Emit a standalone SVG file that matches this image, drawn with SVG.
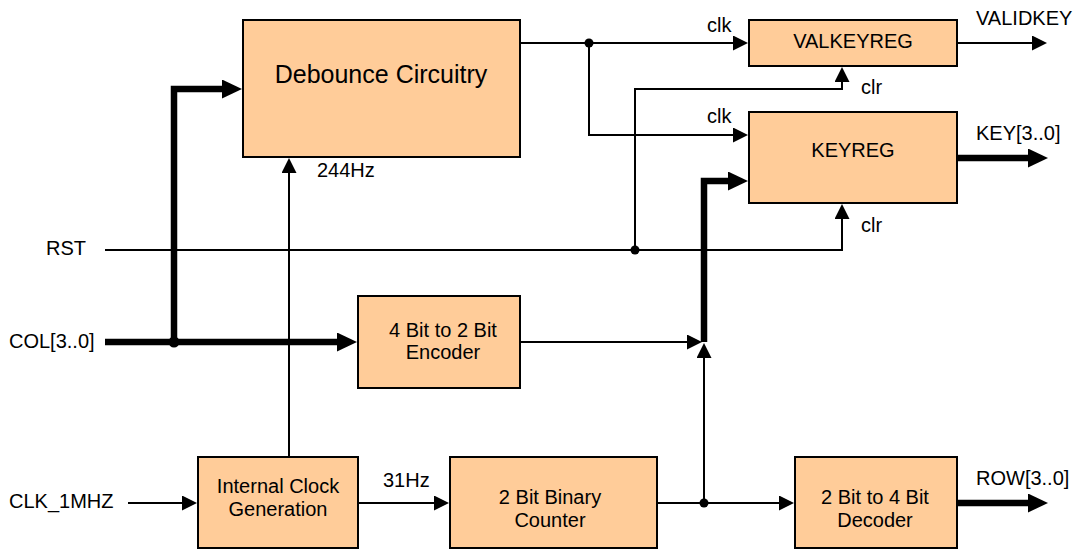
<svg xmlns="http://www.w3.org/2000/svg" width="1074" height="550" viewBox="0 0 1074 550">
<style>
.box{fill:#FFCC99;stroke:#000;stroke-width:2}
.t{font-family:"Liberation Sans",Arial,sans-serif;font-size:20px;fill:#000}
.m{text-anchor:middle}
.w{fill:none;stroke:#000;stroke-width:2}
.k{fill:none;stroke:#000;stroke-width:6.5;stroke-linejoin:miter}
</style>
<defs>
<marker id="a" markerUnits="userSpaceOnUse" markerWidth="16" markerHeight="15" refX="1" refY="7.5" orient="auto"><path d="M0,0 L15,7.5 L0,15 z" fill="#000"/></marker>
<marker id="b" markerUnits="userSpaceOnUse" markerWidth="21" markerHeight="19" refX="1" refY="9.5" orient="auto"><path d="M0,0 L20,9.5 L0,19 z" fill="#000"/></marker>
</defs>
<rect width="1074" height="550" fill="#fff"/>
<g id="connectors">
<path class="w" d="M520,43 H734" marker-end="url(#a)"/>
<path class="w" d="M589,43 V135 H734" marker-end="url(#a)"/>
<path class="w" d="M957,43 H1033" marker-end="url(#a)"/>
<path class="w" d="M635,250 V89 H842 V81" marker-end="url(#a)"/>
<path class="w" d="M105,250 H842 V218" marker-end="url(#a)"/>
<path class="w" d="M289,457 V172" marker-end="url(#a)"/>
<path class="w" d="M520,342 H688" marker-end="url(#a)"/>
<path class="w" d="M704,503 V357" marker-end="url(#a)"/>
<path class="w" d="M657,503 H780" marker-end="url(#a)"/>
<path class="w" d="M128,503 H183" marker-end="url(#a)"/>
<path class="w" d="M358,503 H435" marker-end="url(#a)"/>
<path class="k" d="M105,342 H338" marker-end="url(#b)"/>
<path class="k" d="M174,342 V89 H223" marker-end="url(#b)"/>
<path class="k" d="M704,342 V181 H729" marker-end="url(#b)"/>
<path class="k" d="M957,158 H1029" marker-end="url(#b)"/>
<path class="k" d="M957,503 H1029" marker-end="url(#b)"/>
<circle cx="589" cy="43" r="4.5"/>
<circle cx="635" cy="250" r="4.5"/>
<circle cx="704" cy="503" r="4.5"/>
<circle cx="174" cy="342" r="5.5"/>
</g>
<g id="debounce">
<rect class="box" x="243" y="20" width="277" height="137"/>
<text class="t m" x="381" y="83" style="font-size:25px">Debounce Circuitry</text>
</g>
<g id="valkeyreg">
<rect class="box" x="749" y="20" width="208" height="46"/>
<text class="t m" x="853" y="48">VALKEYREG</text>
</g>
<g id="keyreg">
<rect class="box" x="749" y="112" width="208" height="91"/>
<text class="t m" x="853" y="157">KEYREG</text>
</g>
<g id="encoder">
<rect class="box" x="358" y="296" width="162" height="92"/>
<text class="t m" x="443" y="337">4 Bit to 2 Bit</text>
<text class="t m" x="443" y="359">Encoder</text>
</g>
<g id="clockgen">
<rect class="box" x="198" y="457" width="160" height="91"/>
<text class="t m" x="278" y="493">Internal Clock</text>
<text class="t m" x="278" y="516">Generation</text>
</g>
<g id="counter">
<rect class="box" x="450" y="457" width="207" height="91"/>
<text class="t m" x="550" y="504">2 Bit Binary</text>
<text class="t m" x="550" y="527">Counter</text>
</g>
<g id="decoder">
<rect class="box" x="795" y="457" width="162" height="91"/>
<text class="t m" x="875" y="504">2 Bit to 4 Bit</text>
<text class="t m" x="875" y="527">Decoder</text>
</g>
<g id="labels">
<text class="t" x="707" y="32">clk</text>
<text class="t" x="707" y="123">clk</text>
<text class="t" x="861" y="94">clr</text>
<text class="t" x="861" y="232">clr</text>
<text class="t" x="976" y="25">VALIDKEY</text>
<text class="t" x="976" y="140">KEY[3..0]</text>
<text class="t" x="976" y="485">ROW[3..0]</text>
<text class="t" x="317" y="177">244Hz</text>
<text class="t" x="383" y="487">31Hz</text>
<text class="t" x="86" y="255" text-anchor="end">RST</text>
<text class="t" x="9" y="348">COL[3..0]</text>
<text class="t" x="9" y="508">CLK_1MHZ</text>
</g>
</svg>
